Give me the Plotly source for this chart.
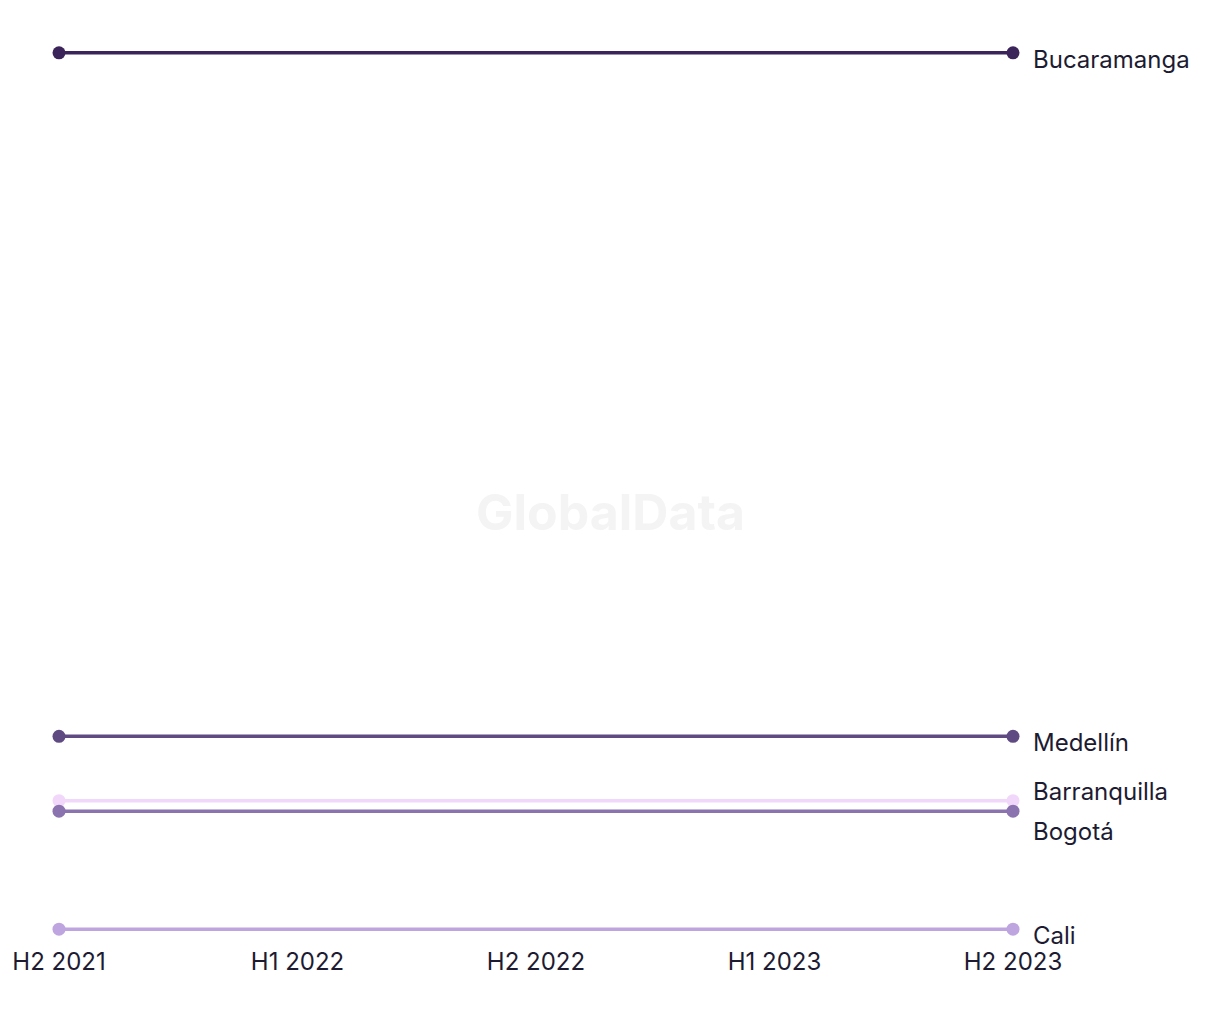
import plotly.graph_objects as go

periods = ["H2 2021", "H1 2022", "H2 2022", "H1 2023", "H2 2023"]
cities = ["Bucaramanga", "Medellín", "Barranquilla", "Bogotá", "Cali"]
values = {
    "Bucaramanga": [85.0, 85.0, 85.0, 85.0, 85.0],
    "Medellín": [26.5, 26.5, 26.5, 26.5, 26.5],
    "Barranquilla": [21.0, 21.0, 21.0, 21.0, 21.0],
    "Bogotá": [20.1, 20.1, 20.1, 20.1, 20.1],
    "Cali": [10.0, 10.0, 10.0, 10.0, 10.0],
}
colors = {
    "Bucaramanga": "#3a2459",
    "Medellín": "#5f4a82",
    "Barranquilla": "#f1d8fb",
    "Bogotá": "#8a73ae",
    "Cali": "#bea5e0",
}
# label pixel offsets (dy) relative to the line end
label_dy = {"Bucaramanga": 7, "Medellín": 6, "Barranquilla": -9, "Bogotá": 20, "Cali": 6}

text_color = "#1d1b32"
font_family = "Inter, 'Noto Sans', sans-serif"

fig = go.Figure()
n = len(periods)
xs = list(range(n))
for c in cities:
    fig.add_trace(go.Scatter(
        x=xs, y=values[c], mode="lines",
        line=dict(color=colors[c], width=3.5),
        cliponaxis=False, showlegend=False, name=c, hoverinfo="skip",
    ))
    fig.add_trace(go.Scatter(
        x=[xs[0], xs[-1]], y=[values[c][0], values[c][-1]], mode="markers",
        marker=dict(color=colors[c], size=13, opacity=1, line=dict(width=0)),
        cliponaxis=False, showlegend=False, name=c,
    ))
    last_x = xs[-1]
    last_y = values[c][-1]
    fig.add_annotation(
        x=last_x, y=last_y, xref="x", yref="y", text=c, showarrow=False,
        xanchor="left", yanchor="middle", xshift=18, yshift=-label_dy[c],
        font=dict(size=24, color=text_color, family=font_family),
    )
    if c in ("Barranquilla", "Bogotá"):
        sgn = 1 if label_dy[c] < 0 else -1
        fig.add_shape(
            type="line", xref="x", yref="y", xsizemode="pixel", ysizemode="pixel",
            xanchor=last_x, yanchor=last_y,
            x0=5, x1=13, y0=sgn * 5, y1=sgn * 14,
            line=dict(color=colors[c] if c != "Barranquilla" else "#e6c8f5", width=1.2, dash="dot"),
        )

fig.add_annotation(
    x=0.578, y=0.476, xref="paper", yref="paper", text="<b>GlobalData</b>", showarrow=False,
    font=dict(size=50, color="#f4f4f4", family="Inter, 'Noto Sans', sans-serif"),
)

fig.update_layout(
    width=1220, height=1020,
    margin=dict(l=54, r=207, t=47, b=85),
    paper_bgcolor="white", plot_bgcolor="white",
    xaxis=dict(
        tickmode="array", tickvals=xs, ticktext=periods,
        range=[0, n - 1], showgrid=False, zeroline=False, showline=False,
        ticks="", ticklabelstandoff=10,
        tickfont=dict(size=24, color=text_color, family=font_family),
        fixedrange=True,
    ),
    yaxis=dict(
        range=[9.5, 85.5], visible=False, showgrid=False, zeroline=False,
    ),
)

fig.write_html("out.html")
